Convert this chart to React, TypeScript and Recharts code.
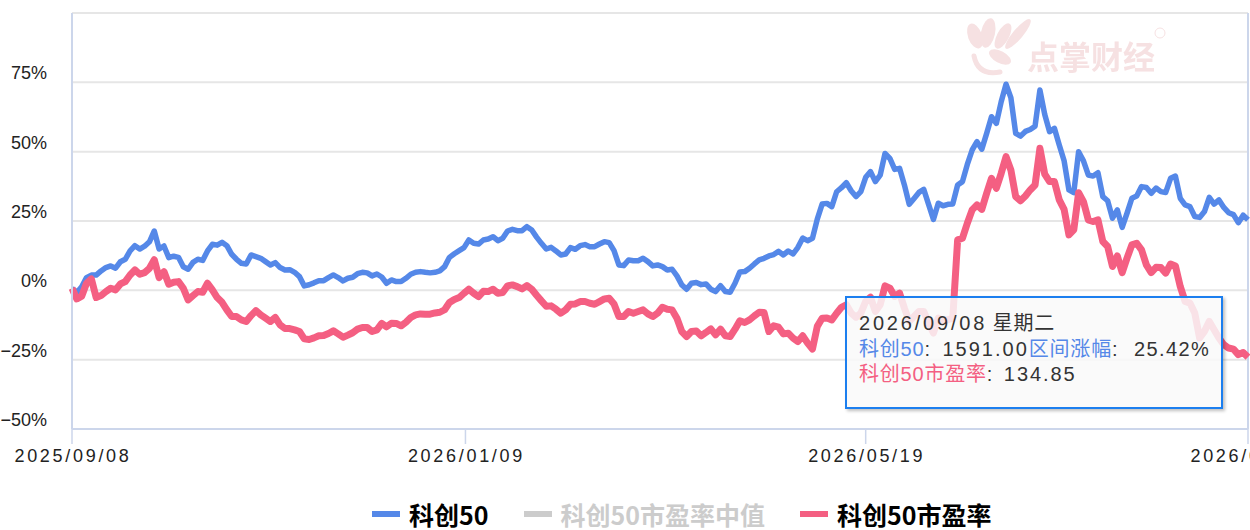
import { CartesianGrid, Legend, Line, LineChart, ReferenceLine, XAxis, YAxis } from "recharts";

// percent change since the first day, one value per trading day
const sciValues = [
  0.75, -0.8, 1.3, 4.6, 5.5, 5.5, 7, 8.2, 8.8, 8, 10.3, 11.2, 14.2, 16.1, 14.9, 15.9, 17.5, 21.4, 14.9, 16,
  11.8, 12.3, 11.9, 8.5, 7.6, 10.1, 11.2, 10.8, 14.2, 16.6, 16.3, 17.3, 16.1, 13, 11.2, 9.75, 9.5, 12.75, 12.15, 11.55,
  10.35, 9.15, 10, 8.2, 7.35, 7.45, 6.5, 4.95, 1.6, 2, 2.7, 3.5, 3.5, 4.6, 5.55, 4.6, 3.4, 4.35, 4.7, 6,
  6.5, 6.3, 5.2, 5.9, 4.8, 2.55, 3.75, 3.15, 3.15, 4.35, 5.8, 6.5, 6.75, 6.5, 6.3, 6.5, 7, 8.55, 11.9, 13.2,
  14.3, 15.4, 18.15, 16.95, 16.7, 18.15, 18.5, 19.35, 17.9, 18.75, 21.4, 22, 21.5, 21.5, 22.95, 21.75, 19.2, 16.95, 14.9, 15.5,
  14.2, 12.75, 13.1, 15.4, 14.8, 16.1, 16.5, 15.75, 15.75, 16.7, 17.55, 17.2, 14.3, 9.15, 8.9, 10.95, 10.7, 10.7, 11.55, 10.35,
  8.8, 9.15, 8.55, 7.35, 7.6, 5.2, 1.95, 0.4, 2.55, 2.8, 2.05, 2.3, 0.4, -0.45, 1.7, -0.45, -0.7, 2.55, 6.65, 6.75,
  7.95, 9.5, 10.95, 11.55, 12.4, 12.9, 14.05, 12.75, 14.2, 13.1, 15.5, 18.85, 17.9, 18.75, 25.7, 31.1, 31.35, 30.15, 35.55, 37,
  38.8, 35.9, 33.8, 35.6, 40.75, 42.8, 39.2, 41.55, 49.35, 47.55, 43.6, 44, 38, 31, 33.15, 35.3, 36.4, 31, 25.6, 31.4,
  30.5, 31, 31.15, 38, 39.2, 45.4, 50.6, 53.6, 50.9, 56.6, 62.6, 60.2, 68, 74.3, 69.5, 56.6, 55.6, 57.3, 58, 59.2,
  72.2, 63.4, 57.2, 58.4, 52.4, 46.7, 36.2, 35.2, 50, 46.7, 41.6, 41.2, 42.4, 33.8, 32.3, 26, 29, 22.7, 27.8, 33.2,
  34, 37.4, 37.1, 35, 36.9, 35.6, 35.3, 40.4, 41.2, 33.2, 30.8, 30.2, 26.6, 26.3, 28.4, 33.5, 31.1, 32.6, 29.9, 28,
  27.3, 24.4, 27.1, 25.42,
];

const peValues = [
  0.75, -3.1, -2.1, 2.55, 4.1, -2.6, -1.9, -0.45, 0.75, 0.15, 2.3, 3.15, 5.55, 7.35, 5.8, 6.4, 7.95, 11.05, 4.6, 6.75,
  2.2, 2.9, 3.15, 0.75, -3.45, -1.9, -0.45, -0.7, 2.55, 0.15, -2.6, -4.3, -7.05, -9.45, -9.45, -10.65, -11.25, -9.1, -7.3, -8.85,
  -10.05, -11.25, -9.8, -12.45, -13.75, -13.8, -14.25, -14.85, -17.5, -17.75, -17.15, -16.4, -16.3, -15.55, -14.6, -15.7, -16.9, -16.15, -15.3, -14,
  -13.4, -13.4, -14.85, -14.25, -11.95, -13.15, -11.85, -11.95, -12.8, -11.5, -9.8, -8.85, -8.5, -8.6, -8.6, -8.15, -7.9, -7, -4.4, -3.3,
  -2.6, -1.05, 0.4, -1.05, -2.25, -0.35, -0.45, 0.4, -1.05, -0.8, 1.6, 1.95, 1.35, 0.5, 1.7, 0.4, -1.75, -3.8, -5.75, -5.6,
  -6.8, -8.25, -7.05, -5, -4.9, -4.05, -4.05, -4.65, -5, -4.05, -3.1, -2.85, -4.9, -9.45, -9.45, -7.65, -8.25, -7.65, -7.05, -8.5,
  -9.45, -8.25, -6.1, -6.8, -7.05, -10.05, -14.85, -16.65, -14.85, -14.7, -16.4, -15.2, -13.9, -16.05, -14, -16.4, -16.65, -14, -11, -11.6,
  -10.65, -9.2, -7.9, -8, -14.85, -12.8, -13.3, -15.7, -15.45, -17.25, -18.45, -16.4, -19.05, -21.2, -13, -10.05, -10, -10.65, -8.25, -6.1,
  -5.2, -8.2, -9.7, -8.2, -4, -2.5, -7.6, -5.2, 1.6, 0.8, -2.2, -1, -6.4, -11.2, -9.4, -7.6, -7.6, -11.8, -15.4, -10,
  -10.9, -10.6, -10, 18.2, 18.8, 24.2, 29, 30.8, 29.2, 35, 40.4, 36.8, 42.2, 48.2, 43.4, 33.8, 32.3, 34, 36.2, 38,
  51.2, 41.9, 39.2, 39.2, 32.6, 29.2, 20, 21.8, 35.2, 32, 25.4, 24.8, 25.4, 17.6, 15.8, 8.6, 12.4, 6.4, 11.6, 16.4,
  17, 14.6, 9.2, 6.4, 8.3, 8.2, 6.2, 9.5, 8.8, 1.4, -4, -4.6, -8.2, -17.2, -14.8, -11.2, -14.2, -17.2, -19.6, -20.8,
  -21.2, -23.2, -22.4, -24.1,
];

// 81.3: the january tick sits a little right of its trading day in the original
const tickIndexes = [0, 81.3, 164, 243];
const tickDates = ["2025/09/08", "2026/01/09", "2026/05/19", "2026/09/08"];
const percentTicks = [-50, -25, 0, 25, 50, 75, 100];

const rows = sciValues.map((sci, i) => ({ i, sci, pe: peValues[i] }));

const BLUE = "#5588E8";
const PINK = "#F45F82";
const AXIS = "#CCD6EB";
const FONT = "'Liberation Sans', 'Noto Sans CJK SC', sans-serif";
const CJK = "'Noto Sans CJK SC', sans-serif";

function PercentTick({ y, payload }: any) {
  if (payload.value === 100) return null;
  const label = (payload.value < 0 ? "−" : "") + Math.abs(payload.value) + "%";
  return (
    <text x={47} y={y - 3} textAnchor="end" fontSize={18} fontFamily={FONT} fill="#222">
      {label}
    </text>
  );
}

function DateTick({ x, payload }: any) {
  return (
    <text x={x + 1} y={462} textAnchor="middle" fontSize={18} fontFamily={FONT} letterSpacing={2.7} fill="#222">
      {tickDates[tickIndexes.indexOf(payload.value)]}
    </text>
  );
}

function LegendRow({ payload }: any) {
  return (
    <div style={{ display: "flex", alignItems: "center", paddingLeft: 372, height: 30 }}>
      {(payload ?? []).map((entry: any) => (
        <div key={entry.value} style={{ display: "flex", alignItems: "center", marginRight: 35 }}>
          <div style={{ width: 28, height: 6, background: entry.inactive ? "#CCCCCC" : entry.color, marginRight: 9 }} />
          <span style={{ fontFamily: CJK, fontWeight: 700, fontSize: 25, lineHeight: "28px", color: entry.inactive ? "#CCCCCC" : "#000" }}>{entry.value}</span>
        </div>
      ))}
    </div>
  );
}

function Watermark() {
  const c = "#F6E1E2";
  return (
    <svg width={1250} height={100} style={{ position: "absolute", left: 0, top: 0, filter: "blur(0.5px)" }}>
      <g fill={c}>
        <ellipse cx={975} cy={36} rx={7} ry={13} transform="rotate(-20 975 36)" />
        <ellipse cx={988} cy={33} rx={7} ry={15} transform="rotate(12 988 33)" />
        <ellipse cx={1003} cy={36} rx={6} ry={14} transform="rotate(28 1003 36)" />
        <ellipse cx={1018} cy={34} rx={5} ry={19} transform="rotate(40 1018 34)" />
        <ellipse cx={1000} cy={57} rx={12} ry={6} transform="rotate(28 1000 57)" />
      </g>
      <path d="M974 56 Q978 76 1000 72" fill="none" stroke={c} strokeWidth={5} strokeLinecap="round" />
      <text x={1027} y={69} fontSize={32} fontWeight={700} fontFamily={CJK} fill={c}>点掌财经</text>
      <circle cx={1160} cy={33} r={5} fill="none" stroke={c} />
    </svg>
  );
}

// tooltip text: numbers are spaced wider than the chinese labels
const Num = ({ gap, children }: any) => <span style={{ letterSpacing: gap }}>{children}</span>;
const Label = ({ color, children }: any) => <span style={{ color, letterSpacing: 0.8 }}>{children}</span>;
const Colon = ({ width }: any) => <span style={{ display: "inline-block", width }}>:</span>;

export default function App() {
  return (
    <div style={{ position: "absolute", left: 0, top: 0, width: 1250, height: 530, overflow: "hidden", background: "#fff" }}>
      <Watermark />
      <div style={{ position: "absolute", left: 0, top: 0 }}>
        <LineChart width={1250} height={530} data={rows} margin={{ top: 13, right: 2, bottom: 40, left: 0 }}>
          <CartesianGrid vertical={false} stroke="#E6E6E6" strokeWidth={2} />
          <XAxis
            dataKey="i"
            type="number"
            domain={[0, 243]}
            ticks={tickIndexes}
            interval={0}
            height={31}
            tick={<DateTick />}
            tickSize={15}
            tickLine={{ stroke: AXIS, strokeWidth: 1.5 }}
            axisLine={{ stroke: AXIS, strokeWidth: 2 }}
          />
          <YAxis
            width={72}
            domain={[-50, 100]}
            ticks={percentTicks}
            interval={0}
            tick={<PercentTick />}
            tickLine={false}
            axisLine={{ stroke: AXIS, strokeWidth: 2 }}
          />
          <ReferenceLine x={243} stroke={AXIS} strokeWidth={2} />
          <Line dataKey="sci" name="科创50" stroke={BLUE} strokeWidth={5.5} dot={false} strokeLinejoin="round" isAnimationActive={false} />
          <Line dataKey="median" name="科创50市盈率中值" stroke="#CCCCCC" hide dot={false} isAnimationActive={false} />
          <Line dataKey="pe" name="科创50市盈率" stroke={PINK} strokeWidth={7} dot={false} strokeLinejoin="round" isAnimationActive={false} />
          <Legend itemSorter={null} content={<LegendRow />} wrapperStyle={{ position: "absolute", left: 0, top: 499, width: 1250, margin: 0 }} />
        </LineChart>
      </div>
      <div
        style={{
          position: "absolute",
          left: 845,
          top: 296,
          width: 378,
          height: 113,
          boxSizing: "border-box",
          border: "2px solid #1C7FEF",
          background: "rgba(249,249,249,0.85)",
          boxShadow: "2px 2px 3px rgba(0,0,0,0.25)",
          fontFamily: FONT,
          fontSize: 20,
          color: "#333",
          lineHeight: "25.5px",
          paddingLeft: 12,
          paddingTop: 13,
          whiteSpace: "nowrap",
        }}
      >
        <div><Num gap={2.8}>2026/09/08</Num> <Label>星期二</Label></div>
        <div>
          <Label color={BLUE}>科创50</Label><Colon width={18} /><Num gap={2}>1591.00</Num>
          <Label color={BLUE}>区间涨幅</Label><Colon width={22} /><Num gap={1.4}>25.42%</Num>
        </div>
        <div>
          <Label color={PINK}>科创50市盈率</Label><Colon width={17} /><Num gap={1.9}>134.85</Num>
        </div>
      </div>
    </div>
  );
}
